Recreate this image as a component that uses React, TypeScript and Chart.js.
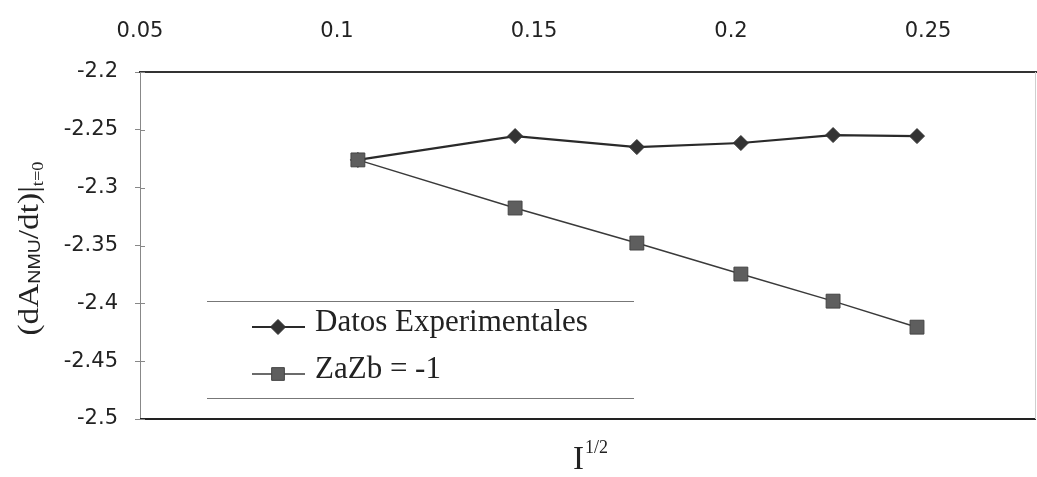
import { useEffect, useRef } from 'react';
import { Chart, registerables } from 'chart.js';

Chart.register(...registerables);

// ---- data ----
const xValues = [0.1053, 0.1452, 0.1761, 0.2025, 0.2259, 0.2472];
const datosExperimentales = [-2.276, -2.2554, -2.2649, -2.2614, -2.2545, -2.2554];
const zaZbMinus1 = [-2.276, -2.3176, -2.3479, -2.3747, -2.3981, -2.4206];
const seriesLabels = ['Datos Experimentales', 'ZaZb = -1'];
const xTicks = [0.05, 0.1, 0.15, 0.2, 0.25];
const xTickLabels = ['0.05', '0.1', '0.15', '0.2', '0.25'];
const yTicks = [-2.5, -2.45, -2.4, -2.35, -2.3, -2.25, -2.2];
const yTickLabels = ['-2.5', '-2.45', '-2.4', '-2.35', '-2.3', '-2.25', '-2.2'];
const xRange = [0.05, 0.2774];
const yRange = [-2.5, -2.2];

const SERIF = '"Liberation Serif", "Times New Roman", serif';
const SANS = '"Liberation Sans", Arial, sans-serif';

function labelFor(ticks: number[], labels: string[], v: number) {
  const i = ticks.findIndex((t) => Math.abs(t - v) < 1e-9);
  return i >= 0 ? labels[i] : '';
}

function drawMarker(ctx: CanvasRenderingContext2D, style: string, x: number, y: number, r: number, fill: string, stroke: string) {
  ctx.beginPath();
  if (style === 'rectRot') {
    ctx.moveTo(x, y - r);
    ctx.lineTo(x + r, y);
    ctx.lineTo(x, y + r);
    ctx.lineTo(x - r, y);
    ctx.closePath();
  } else {
    const s = r * Math.SQRT1_2;
    ctx.rect(x - s, y - s, 2 * s, 2 * s);
  }
  ctx.fillStyle = fill;
  ctx.fill();
  ctx.strokeStyle = stroke;
  ctx.lineWidth = 1;
  ctx.stroke();
}

const decorPlugin = {
  id: 'decor',
  afterDraw(chart: any) {
    const { ctx, chartArea: ca } = chart;
    ctx.save();
    const line = (x1: number, y1: number, x2: number, y2: number) => {
      ctx.beginPath();
      ctx.moveTo(x1, y1);
      ctx.lineTo(x2, y2);
      ctx.stroke();
    };
    // frame: bottom and right
    ctx.strokeStyle = '#222';
    ctx.lineWidth = 2;
    line(ca.left, ca.bottom, ca.right, ca.bottom);
    ctx.strokeStyle = '#cfcfcf';
    ctx.lineWidth = 1;
    line(ca.right - 0.5, ca.top, ca.right - 0.5, ca.bottom);
    // inner y tick marks
    const yScale = chart.scales.y;
    ctx.strokeStyle = '#888';
    ctx.lineWidth = 1;
    yTicks.forEach((v) => {
      const py = Math.round(yScale.getPixelForValue(v)) + 0.5;
      line(ca.left, py, ca.left + 5, py);
    });

    // legend box (top and bottom rules only)
    const lgLeft = ca.left + 67;
    const lgRight = ca.left + 494;
    const lgTop = ca.top + 229;
    const lgBottom = ca.top + 326;
    ctx.strokeStyle = '#777';
    ctx.lineWidth = 1;
    line(lgLeft, lgTop + 0.5, lgRight, lgTop + 0.5);
    line(lgLeft, lgBottom + 0.5, lgRight, lgBottom + 0.5);
    const entryY = [lgTop + 26, lgTop + 73];
    chart.data.datasets.forEach((ds: any, i: number) => {
      const y = entryY[i];
      ctx.strokeStyle = ds.borderColor;
      ctx.lineWidth = ds.borderWidth;
      line(ca.left + 112, y, ca.left + 165, y);
      drawMarker(ctx, ds.pointStyle, ca.left + 138, y, ds.pointStyle === 'rect' ? 9 : 7.5, ds.pointBackgroundColor, ds.pointBorderColor);
      ctx.fillStyle = '#222';
      ctx.font = `31px ${SERIF}`;
      ctx.textAlign = 'left';
      ctx.textBaseline = 'alphabetic';
      ctx.fillText(ds.label, ca.left + 175, y + 4);
    });

    // y-axis title (rotated, with subscripts)
    const parts = [
      { t: '(dA', f: `29px ${SERIF}`, dy: 0 },
      { t: 'NMU', f: `17px ${SANS}`, dy: 2 },
      { t: '/dt)|', f: `29px ${SERIF}`, dy: 0 },
      { t: 't=0', f: `16px ${SERIF}`, dy: 5 },
    ];
    let total = 0;
    parts.forEach((p) => {
      ctx.font = p.f;
      total += ctx.measureText(p.t).width;
    });
    const target = 174;
    ctx.save();
    ctx.translate(38, (ca.top + ca.bottom) / 2 + 3);
    ctx.rotate(-Math.PI / 2);
    ctx.scale(target / total, 1);
    ctx.fillStyle = '#222';
    ctx.textAlign = 'left';
    ctx.textBaseline = 'alphabetic';
    let cx = -total / 2;
    parts.forEach((p) => {
      ctx.font = p.f;
      ctx.fillText(p.t, cx, p.dy);
      cx += ctx.measureText(p.t).width;
    });
    ctx.restore();

    // x-axis title  I^{1/2}
    ctx.fillStyle = '#222';
    ctx.textAlign = 'left';
    ctx.textBaseline = 'alphabetic';
    ctx.font = `33px ${SERIF}`;
    const ix = 573;
    const iy = 469;
    ctx.fillText('I', ix, iy);
    const iw = ctx.measureText('I').width;
    ctx.font = `18px ${SERIF}`;
    ctx.fillText('1/2', ix + iw + 1, iy - 16);

    ctx.restore();
  },
};

export default function App() {
  const ref = useRef<HTMLCanvasElement>(null);
  useEffect(() => {
    document.body.style.margin = '0';
    const canvas = ref.current!;
    const chart = new Chart(canvas, {
      type: 'scatter',
      data: {
        datasets: [
          {
            label: seriesLabels[0],
            data: xValues.map((x, i) => ({ x, y: datosExperimentales[i] })),
            showLine: true,
            borderColor: '#2a2a2a',
            borderWidth: 2.2,
            pointStyle: 'rectRot',
            pointRadius: 7.5,
            pointBackgroundColor: '#333',
            pointBorderColor: '#333',
            pointBorderWidth: 1,
            order: 1,
          },
          {
            label: seriesLabels[1],
            data: xValues.map((x, i) => ({ x, y: zaZbMinus1[i] })),
            showLine: true,
            borderColor: '#3a3a3a',
            borderWidth: 1.5,
            pointStyle: 'rect',
            pointRadius: 9.8,
            pointBackgroundColor: '#5e5e5e',
            pointBorderColor: '#444',
            pointBorderWidth: 1,
            order: 0,
          },
        ],
      } as any,
      options: {
        animation: false,
        responsive: false,
        maintainAspectRatio: false,
        layout: { autoPadding: false, padding: { left: 0, top: 0, right: 1, bottom: 58 } },
        plugins: {
          legend: { display: false },
          tooltip: { enabled: false },
        },
        scales: {
          x: {
            type: 'linear',
            position: 'top',
            min: xRange[0],
            max: xRange[1],
            afterBuildTicks: (s: any) => {
              s.ticks = xTicks.map((v) => ({ value: v }));
            },
            afterFit: (s: any) => {
              s.height = 72;
              s.paddingLeft = 0;
              s.paddingRight = 0;
            },
            ticks: {
              callback: (v: any) => labelFor(xTicks, xTickLabels, Number(v)),
              font: { family: '"DejaVu Sans", sans-serif', size: 21 },
              color: '#222',
              padding: 28,
              maxRotation: 0,
              autoSkip: false,
            },
            grid: { drawOnChartArea: false, drawTicks: false },
            border: { display: true, color: '#333', width: 2 },
          },
          y: {
            type: 'linear',
            min: yRange[0],
            max: yRange[1],
            afterBuildTicks: (s: any) => {
              s.ticks = yTicks.map((v) => ({ value: v }));
            },
            afterFit: (s: any) => {
              s.width = 140;
              s.paddingTop = 0;
              s.paddingBottom = 0;
            },
            ticks: {
              callback: (v: any) => labelFor(yTicks, yTickLabels, Number(v)),
              font: { family: '"DejaVu Sans", sans-serif', size: 21 },
              color: '#222',
              padding: 17,
              autoSkip: false,
            },
            grid: { drawOnChartArea: false, drawTicks: true, tickLength: 5, color: '#888' },
            border: { display: true, color: '#888', width: 1 },
          },
        },
      } as any,
      plugins: [decorPlugin],
    });
    return () => chart.destroy();
  }, []);
  return (
    <div style={{ position: 'absolute', left: 0, top: 0, width: 1037, height: 477, background: '#fff' }}>
      <canvas ref={ref} width={1037} height={477} />
    </div>
  );
}
